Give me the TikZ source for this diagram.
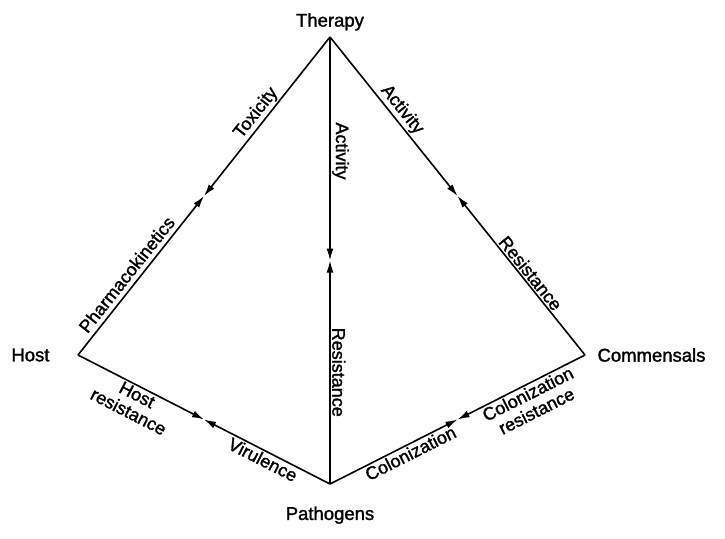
\documentclass[tikz,border=0pt]{standalone}
\usepackage{fontspec}
\setmainfont{Liberation Sans}[BoldFont=Liberation Sans,BoldFeatures={FakeBold=1.5}]
\usetikzlibrary{positioning,calc,arrows.meta}
\tikzset{
  edge/.style={line width=1.6pt,-{Latex[length=12pt,width=7pt]}},
  lab/.style={font=\fontsize{18}{19}\selectfont\bfseries,inner sep=2pt},
  vlab/.style={font=\fontsize{18.5}{19}\selectfont\bfseries},
}
\begin{document}
\begin{tikzpicture}[x=1pt,y=-1pt]
\useasboundingbox (0,0) rectangle (725,538);
\coordinate (t) at (330,37);
\coordinate (h) at (78,355);
\coordinate (c) at (585,355);
\coordinate (p) at (330,484);
\node[vlab,above=3pt of t] (therapy) {Therapy};
\node[vlab,left=25pt of h] (host) {Host};
\node[vlab,right=9pt of c] (commensals) {Commensals};
\node[vlab,below=19pt of p] (pathogens) {Pathogens};
% the two tips of each edge meet halfway
\coordinate (th) at ($(t)!0.5!(h)$);
\coordinate (tp) at ($(t)!0.5!(p)$);
\coordinate (tc) at ($(t)!0.5!(c)$);
\coordinate (hp) at ($(h)!0.5!(p)$);
\coordinate (pc) at ($(p)!0.5!(c)$);
\draw[edge] (t) -- (th);
\draw[edge] (h) -- (th);
\draw[edge] (t) -- (tp);
\draw[edge] (p) -- (tp);
\draw[edge] (t) -- (tc);
\draw[edge] (c) -- (tc);
\draw[edge] (h) -- (hp);
\draw[edge] (p) -- (hp);
\draw[edge] (p) -- (pc);
\draw[edge] (c) -- (pc);
% labels along the edges
\path (h) -- (t) node[lab,sloped,above=3pt,pos=0.23] (pharma) {Pharmacokinetics}
                 node[lab,sloped,above,pos=0.74] (toxicity) {Toxicity};
\path (t) -- (p) node[lab,rotate=-90,anchor=south,pos=0.255] (activity1) {Activity}
                 node[lab,rotate=-90,anchor=south,pos=0.75] (resistance1) {Resistance};
\path (t) -- (c) node[lab,sloped,above,pos=0.25] (activity2) {Activity}
                 node[lab,sloped,above,pos=0.76] (resistance2) {Resistance};
\path (h) -- (p) node[lab,sloped,below,pos=0.25,align=center] (hostres) {Host\\resistance}
                 node[lab,sloped,below,pos=0.75] (virulence) {Virulence};
\path (p) -- (c) node[lab,sloped,below,pos=0.30] (colon) {Colonization}
                 node[lab,sloped,below,pos=0.76,align=center] (colonres) {Colonization\\resistance};
\end{tikzpicture}
\end{document}
